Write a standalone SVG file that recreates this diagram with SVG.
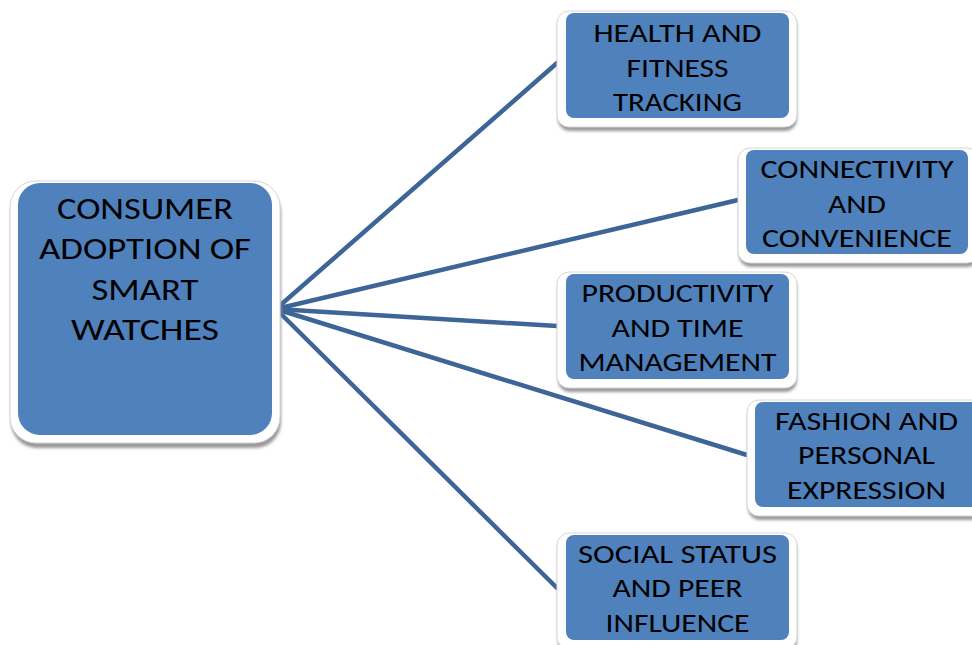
<svg xmlns="http://www.w3.org/2000/svg" width="972" height="645" viewBox="0 0 972 645">
  <style>
    .frame { fill: #ffffff; stroke: #d6d6d6; stroke-width: 1; }
    .shade { fill: #9a9a9a; }
    .box { fill: #4f81bd; }
    .lbl { font-family: Carlito, Lato, "Liberation Sans", sans-serif; fill: #000000; text-anchor: middle; }
    .main { font-size: 31.5px; }
    .sub { font-size: 27px; }
    .link { stroke: #3d6597; stroke-width: 4.5; fill: none; stroke-linecap: round; }
  </style>
  <defs>
    <filter id="soft" x="-10%" y="-10%" width="120%" height="130%">
      <feGaussianBlur stdDeviation="1.5"/>
    </filter>
  </defs>
  <rect width="972" height="645" fill="#ffffff"/>

  <g id="connectors">
    <line class="link" x1="276" y1="309" x2="557" y2="63"/>
    <line class="link" x1="276" y1="309" x2="738" y2="200"/>
    <line class="link" x1="276" y1="309" x2="557" y2="326"/>
    <line class="link" x1="276" y1="309" x2="747" y2="455"/>
    <line class="link" x1="276" y1="309" x2="557" y2="588"/>
  </g>

  <g id="adoption">
    <rect class="shade" x="11" y="186" width="270" height="262" rx="26" filter="url(#soft)"/>
    <rect class="frame" x="10" y="181" width="270" height="262" rx="26"/>
    <rect class="box" x="18" y="183" width="254" height="252" rx="22"/>
    <text class="lbl main" x="145" y="219" textLength="176" lengthAdjust="spacingAndGlyphs">CONSUMER</text>
    <text class="lbl main" x="145" y="259" textLength="212" lengthAdjust="spacingAndGlyphs">ADOPTION OF</text>
    <text class="lbl main" x="145" y="300" textLength="107" lengthAdjust="spacingAndGlyphs">SMART</text>
    <text class="lbl main" x="145" y="340" textLength="148" lengthAdjust="spacingAndGlyphs">WATCHES</text>
  </g>

  <g id="health">
    <rect class="shade" x="558" y="15" width="239" height="116" rx="12" filter="url(#soft)"/>
    <rect class="frame" x="557" y="11" width="240" height="116" rx="12"/>
    <rect class="box" x="566" y="13" width="223" height="105" rx="8"/>
    <text class="lbl sub" x="677.5" y="42" textLength="168" lengthAdjust="spacingAndGlyphs">HEALTH AND</text>
    <text class="lbl sub" x="677.5" y="77" textLength="102" lengthAdjust="spacingAndGlyphs">FITNESS</text>
    <text class="lbl sub" x="677.5" y="111" textLength="129" lengthAdjust="spacingAndGlyphs">TRACKING</text>
  </g>

  <g id="connectivity">
    <rect class="shade" x="739" y="152" width="240" height="115" rx="12" filter="url(#soft)"/>
    <rect class="frame" x="738" y="148" width="241" height="115" rx="12"/>
    <rect class="box" x="746" y="150" width="222" height="104" rx="8"/>
    <text class="lbl sub" x="857" y="178" textLength="193" lengthAdjust="spacingAndGlyphs">CONNECTIVITY</text>
    <text class="lbl sub" x="857" y="213" textLength="58" lengthAdjust="spacingAndGlyphs">AND</text>
    <text class="lbl sub" x="857" y="247" textLength="190" lengthAdjust="spacingAndGlyphs">CONVENIENCE</text>
  </g>

  <g id="productivity">
    <rect class="shade" x="558" y="276" width="239" height="116" rx="12" filter="url(#soft)"/>
    <rect class="frame" x="557" y="272" width="240" height="116" rx="12"/>
    <rect class="box" x="566" y="274" width="223" height="105" rx="8"/>
    <text class="lbl sub" x="677.5" y="302" textLength="192" lengthAdjust="spacingAndGlyphs">PRODUCTIVITY</text>
    <text class="lbl sub" x="677.5" y="337" textLength="132" lengthAdjust="spacingAndGlyphs">AND TIME</text>
    <text class="lbl sub" x="677.5" y="371" textLength="198" lengthAdjust="spacingAndGlyphs">MANAGEMENT</text>
  </g>

  <g id="fashion">
    <rect class="shade" x="748" y="404" width="240" height="116" rx="12" filter="url(#soft)"/>
    <rect class="frame" x="747" y="400" width="241" height="116" rx="12"/>
    <rect class="box" x="755" y="402" width="225" height="105" rx="8"/>
    <text class="lbl sub" x="866.5" y="430" textLength="183" lengthAdjust="spacingAndGlyphs">FASHION AND</text>
    <text class="lbl sub" x="866.5" y="464" textLength="137" lengthAdjust="spacingAndGlyphs">PERSONAL</text>
    <text class="lbl sub" x="866.5" y="499" textLength="159" lengthAdjust="spacingAndGlyphs">EXPRESSION</text>
  </g>

  <g id="social">
    <rect class="shade" x="558" y="537" width="239" height="116" rx="12" filter="url(#soft)"/>
    <rect class="frame" x="557" y="533" width="240" height="116" rx="12"/>
    <rect class="box" x="566" y="535" width="223" height="105" rx="8"/>
    <text class="lbl sub" x="677.5" y="563" textLength="199" lengthAdjust="spacingAndGlyphs">SOCIAL STATUS</text>
    <text class="lbl sub" x="677.5" y="597" textLength="130" lengthAdjust="spacingAndGlyphs">AND PEER</text>
    <text class="lbl sub" x="677.5" y="632" textLength="144" lengthAdjust="spacingAndGlyphs">INFLUENCE</text>
  </g>
</svg>
